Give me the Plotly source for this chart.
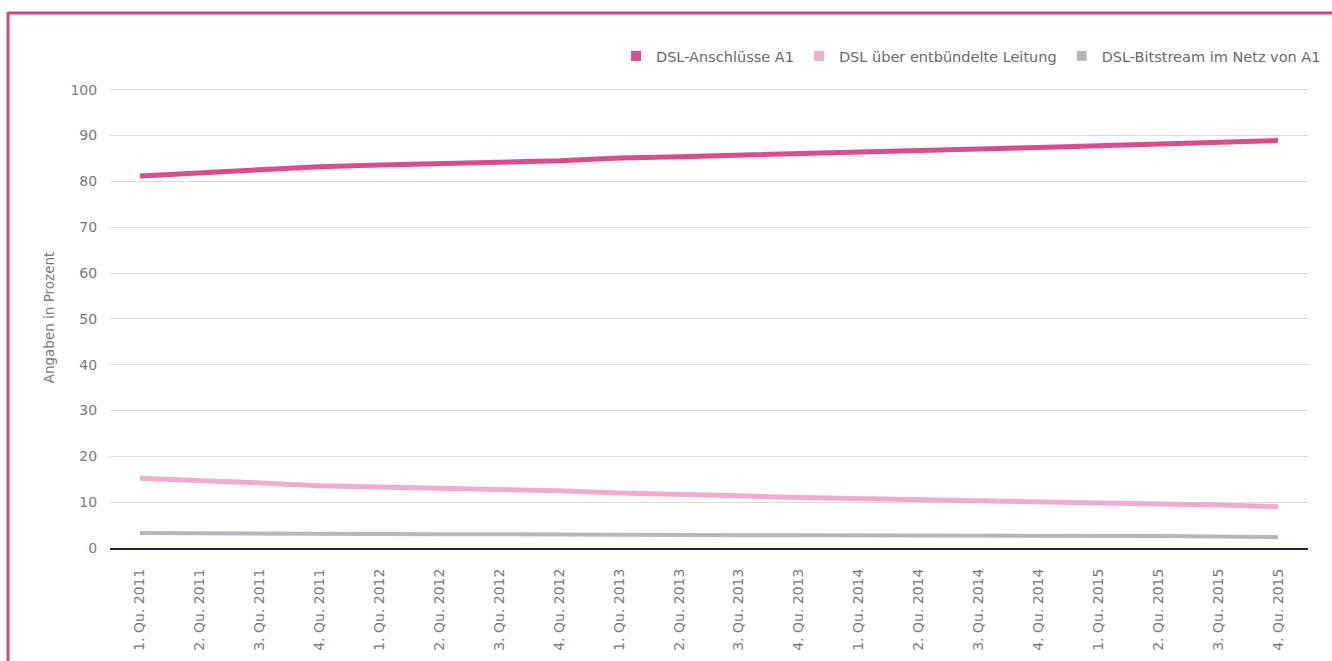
import plotly.graph_objects as go

quarters = [
    "1. Qu. 2011", "2. Qu. 2011", "3. Qu. 2011", "4. Qu. 2011",
    "1. Qu. 2012", "2. Qu. 2012", "3. Qu. 2012", "4. Qu. 2012",
    "1. Qu. 2013", "2. Qu. 2013", "3. Qu. 2013", "4. Qu. 2013",
    "1. Qu. 2014", "2. Qu. 2014", "3. Qu. 2014", "4. Qu. 2014",
    "1. Qu. 2015", "2. Qu. 2015", "3. Qu. 2015", "4. Qu. 2015",
]

dsl_a1 = [81.2, 81.9, 82.6, 83.2, 83.6, 83.8, 84.2, 84.5, 85.1, 85.4,
          85.7, 86.2, 86.5, 86.8, 87.0, 87.4, 87.8, 88.1, 88.4, 88.9]
dsl_entbuendelt = [15.2, 14.8, 14.2, 13.6, 13.3, 13.1, 12.9, 12.5, 12.0, 11.8,
                   11.4, 11.0, 10.8, 10.6, 10.4, 10.1, 9.8, 9.6, 9.4, 9.0]
dsl_bitstream = [3.3, 3.2, 3.1, 3.0, 3.0, 3.0, 3.0, 2.9, 2.9, 2.9,
                 2.8, 2.8, 2.8, 2.7, 2.7, 2.7, 2.6, 2.6, 2.5, 2.4]

series_names = ["DSL-Anschlüsse A1", "DSL über entbündelte Leitung", "DSL-Bitstream im Netz von A1"]
series_colors = ["#dc4b8c", "#f2aacd", "#b9b5bf"]
series_widths = [5, 5, 4]
series_values = [dsl_a1, dsl_entbuendelt, dsl_bitstream]

fig = go.Figure()

# the lines themselves (legend entries are drawn as squares below)
for name, vals, col, w in zip(series_names, series_values, series_colors, series_widths):
    fig.add_trace(go.Scatter(
        x=quarters, y=vals, mode="lines", name=name,
        line=dict(color=col, width=w), showlegend=False,
    ))

# square legend markers
for name, col in zip(series_names, series_colors):
    fig.add_trace(go.Scatter(
        x=[None], y=[None], mode="markers", name=name,
        marker=dict(symbol="square", size=10, color=col),
    ))

W, H = 1332, 661
y_top = 100.6
left, right, bottom = 110, 24, 113
top = 90 - round((y_top - 100) * 4.58)
pw, ph = W - left - right, H - top - bottom


def px_x(px):
    return (px - left) / pw


def px_y(py):
    return (H - bottom - py) / ph


tick_col = "#7a7a7a"

fig.update_layout(
    width=W, height=H,
    margin=dict(l=left, r=right, t=top, b=bottom, autoexpand=False),
    paper_bgcolor="white", plot_bgcolor="white",
    font=dict(family="DejaVu Sans, sans-serif", color=tick_col, size=14),
    legend=dict(
        orientation="h", xref="container", yref="container",
        x=1326 / W, xanchor="right", y=1 - 56 / H, yanchor="middle",
        font=dict(size=14.5, color="#6a6a6a"), itemwidth=30, bgcolor="rgba(0,0,0,0)",
    ),
    xaxis=dict(
        type="category", range=[-0.5, len(quarters) - 0.5],
        tickangle=-90, showgrid=False, showline=True, linecolor="#2b2535", linewidth=2,
        ticks="outside", ticklen=13, tickcolor="rgba(0,0,0,0)",
        tickfont=dict(size=14, color=tick_col),
    ),
    yaxis=dict(
        range=[0, y_top], tickvals=list(range(0, 101, 10)), showgrid=True,
        gridcolor="#dadada", gridwidth=1,
        zeroline=False, ticks="outside", ticklen=9, tickcolor="rgba(0,0,0,0)",
        tickfont=dict(size=14, color=tick_col),
        title=dict(text="Angaben in Prozent", font=dict(size=13.5, color=tick_col), standoff=12),
    ),
    shapes=[
        dict(type="line", xref="paper", yref="paper", x0=px_x(8), x1=px_x(1340),
             y0=px_y(13), y1=px_y(13), line=dict(color="#d2458a", width=3)),
        dict(type="line", xref="paper", yref="paper", x0=px_x(8), x1=px_x(8),
             y0=px_y(12), y1=px_y(670), line=dict(color="#d2458a", width=3)),
    ],
)

fig.write_html("out.html")
